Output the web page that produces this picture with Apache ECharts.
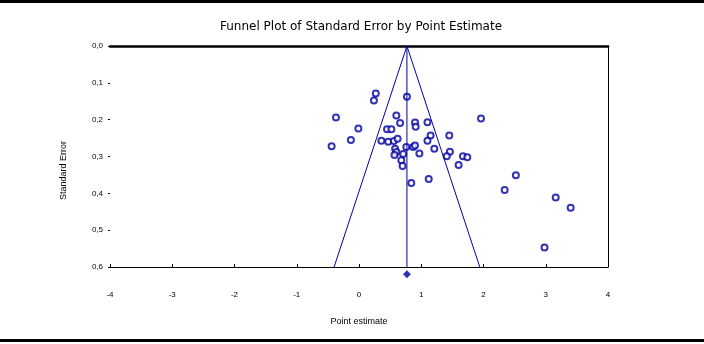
<!DOCTYPE html>
<html>
<head>
<meta charset="utf-8">
<script src="https://cdn.jsdelivr.net/npm/echarts@6/dist/echarts.min.js"></script>
<style>
html,body{margin:0;padding:0;background:#fff;}
#c{width:704px;height:344px;}
</style>
</head>
<body>
<div id="c"></div>
<script>
// Study points: point estimate (x) and standard error (y)
var studyX = [0.27, 0.24, 0.77, -0.37, 1.96, -0.01, 0.60, 0.66, 0.45, 0.52,
              0.90, 0.91, 1.10, 1.45, -0.13, -0.44, 0.36, 0.47, 0.56, 0.62,
              1.15, 1.10, 1.21, 0.87, 0.90, 0.76, 0.58, 0.60, 0.57, 0.97,
              0.71, 1.46, 1.41, 1.67, 1.74, 1.60, 0.68, 0.70, 0.84, 1.12,
              2.52, 2.34, 3.16, 3.40, 2.98];
var studySE = [0.129, 0.148, 0.138, 0.194, 0.197, 0.224, 0.189, 0.209, 0.226, 0.226,
               0.208, 0.219, 0.207, 0.243, 0.255, 0.272, 0.257, 0.260, 0.258, 0.252,
               0.243, 0.257, 0.279, 0.274, 0.270, 0.274, 0.279, 0.288, 0.296, 0.292,
               0.293, 0.287, 0.299, 0.299, 0.302, 0.323, 0.310, 0.326, 0.372, 0.361,
               0.351, 0.391, 0.411, 0.439, 0.547];
// Funnel outline vertices
var funnelX = [-0.40, 0.77, 1.94];
var funnelSE = [0.6, 0.0, 0.6];
// Pooled estimate
var pooledX = 0.77;
var pooledLineSE = [0.0, 0.6];
var diamondSE = 0.62;
// Axes
var xTicks = [-4, -3, -2, -1, 0, 1, 2, 3, 4];
var yTicks = [0.0, 0.1, 0.2, 0.3, 0.4, 0.5, 0.6];

var blue = '#0000a0';
var fontFam = 'DejaVu Sans, Arial, sans-serif';
var smallFam = 'Liberation Sans, Arial, sans-serif';

var pts = studyX.map(function (x, i) { return [x, studySE[i]]; });
var funnel = funnelX.map(function (x, i) { return [x, funnelSE[i]]; });
var vline = pooledLineSE.map(function (s) { return [pooledX, s]; });

var chart = echarts.init(document.getElementById('c'), null, {renderer: 'canvas'});
chart.setOption({
  animation: false,
  backgroundColor: '#fff',
  title: {
    text: 'Funnel Plot of Standard Error by Point Estimate',
    left: 356, top: 16, textAlign: 'center',
    textStyle: {fontFamily: fontFam, fontSize: 12, fontWeight: 'normal', color: '#000'}
  },
  grid: {left: 110, right: 96, top: 46, bottom: 77, containLabel: false},
  xAxis: [{
    type: 'value', min: xTicks[0], max: xTicks[xTicks.length - 1], interval: 1,
    position: 'bottom',
    name: 'Point estimate', nameLocation: 'middle', nameGap: 50,
    nameTextStyle: {fontFamily: smallFam, fontSize: 9, color: '#000'},
    axisLine: {show: true, onZero: false, lineStyle: {color: '#000', width: 1}},
    axisTick: {show: true, inside: true, length: 3, lineStyle: {color: '#000'}},
    axisLabel: {fontFamily: smallFam, fontSize: 8, color: '#000', margin: 24},
    splitLine: {show: false}
  }, {
    type: 'value', min: xTicks[0], max: xTicks[xTicks.length - 1], interval: 1,
    position: 'top',
    axisLine: {show: true, onZero: false, lineStyle: {color: '#000', width: 2.5}},
    axisTick: {show: false}, axisLabel: {show: false}, splitLine: {show: false}
  }],
  yAxis: [{
    type: 'value', inverse: true, min: yTicks[0], max: yTicks[yTicks.length - 1], interval: 0.1,
    position: 'left',
    name: 'Standard Error', nameLocation: 'middle', nameGap: 42, nameRotate: 90,
    nameTextStyle: {fontFamily: smallFam, fontSize: 9, color: '#000', padding: [0, 28, 0, 0]},
    axisLine: {show: false, onZero: false},
    axisTick: {show: true, length: 2, lineStyle: {color: '#000'}},
    axisLabel: {fontFamily: smallFam, fontSize: 8, color: '#000', margin: 7,
      formatter: function (v) { return v.toFixed(1).replace('.', ','); }},
    splitLine: {show: false}
  }, {
    type: 'value', inverse: true, min: yTicks[0], max: yTicks[yTicks.length - 1], interval: 0.1,
    position: 'right',
    axisLine: {show: true, onZero: false, lineStyle: {color: '#000', width: 1}},
    axisTick: {show: false}, axisLabel: {show: false}, splitLine: {show: false}
  }],
  series: [{
    type: 'line', data: funnel, symbol: 'none',
    lineStyle: {color: blue, width: 1}, silent: true
  }, {
    type: 'line', data: vline, symbol: 'none',
    lineStyle: {color: blue, width: 1}, silent: true
  }, {
    type: 'scatter', data: pts, symbol: 'emptyCircle', symbolSize: 6,
    itemStyle: {color: blue, borderColor: blue, borderWidth: 1}
  }, {
    type: 'scatter', data: [[pooledX, diamondSE]], symbol: 'diamond', symbolSize: [8, 8],
    clip: false, itemStyle: {color: blue}
  }],
  graphic: [
    {type: 'rect', shape: {x: 0, y: 0, width: 704, height: 3}, style: {fill: '#000'}},
    {type: 'rect', shape: {x: 0, y: 339, width: 704, height: 3}, style: {fill: '#000'}}
  ]
});
</script>
</body>
</html>
